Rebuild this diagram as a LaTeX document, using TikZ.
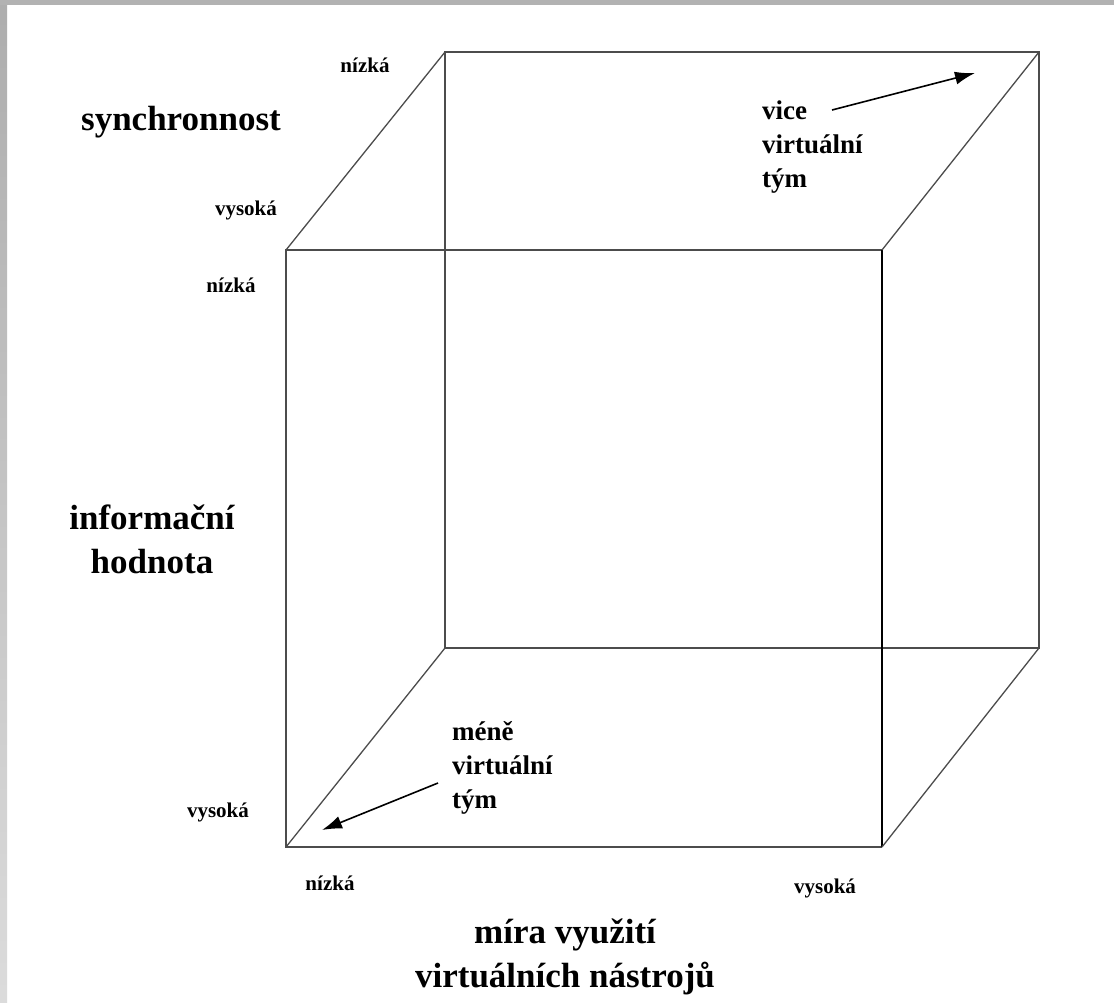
\documentclass[tikz,border=0pt]{standalone}
\usepackage{fontspec}
\setmainfont{Liberation Serif}
\usetikzlibrary{arrows.meta}

\tikzset{
  axistitle/.style={font=\fontsize{35}{44}\selectfont\bfseries, align=center, inner sep=0pt},
  teamlabel/.style={font=\fontsize{27}{34}\selectfont\bfseries, align=left, inner sep=0pt},
  levellabel/.style={font=\fontsize{21}{25}\selectfont\bfseries, inner sep=0pt},
  edge/.style={draw=black!70, line width=1.3pt},
  pointer/.style={-{Latex[length=20pt,width=13pt]}, line width=1.6pt}
}

\begin{document}
\begin{tikzpicture}[x=1pt, y=-1pt]
  \useasboundingbox (0,0) rectangle (1114,1002);
  \fill[white] (0,0) rectangle (1114,1002);
  \shade[top color=black!32, bottom color=black!14] (0,0) rectangle (7,1002);
  \fill[black!30] (0,0) rectangle (1114,5);

  % front face
  \coordinate (ftl) at (286,250);
  \coordinate (ftr) at (882,250);
  \coordinate (fbr) at (882,847);
  \coordinate (fbl) at (286,847);
  % back face
  \coordinate (btl) at (445,52);
  \coordinate (btr) at (1039,52);
  \coordinate (bbr) at (1039,648);
  \coordinate (bbl) at (445,648);

  \draw [edge] (btl) -- (btr) -- (bbr) -- (bbl) -- cycle;
  \draw [edge] (fbr) -- (fbl) -- (ftl) -- (ftr);
  \draw [line width=2.2pt] (ftr) -- (fbr);
  \draw [edge] (ftl) -- (btl);
  \draw [edge] (ftr) -- (btr);
  \draw [edge] (fbr) -- (bbr);
  \draw [edge] (fbl) -- (bbl);

  % axes
  \node (syn) [axistitle, anchor=base] at (181,130) {synchronnost};
  \node (info) [axistitle, anchor=base] at (152,573) {informační\\hodnota};
  \node (mira) [axistitle, anchor=base] at (565,987) {míra využití\\virtuálních nástrojů};

  \node (synlow) [levellabel, anchor=base] at (365,72) {nízká};
  \node (synhigh) [levellabel, anchor=base] at (246,215) {vysoká};
  \node (infolow) [levellabel, anchor=base] at (231,292) {nízká};
  \node (infohigh) [levellabel, anchor=base] at (218,817) {vysoká};
  \node (miralow) [levellabel, anchor=base] at (330,890) {nízká};
  \node (mirahigh) [levellabel, anchor=base] at (825,893) {vysoká};

  % teams
  \node (more) [teamlabel, anchor=base west] at (762,187) {vice\\virtuální\\tým};
  \node (less) [teamlabel, anchor=base west] at (452,808) {méně\\virtuální\\tým};
  \coordinate (moretip) at (975,73);
  \coordinate (moretail) at (832,110);
  \coordinate (lesstip) at (322,830);
  \coordinate (lesstail) at (438,783);
  \draw [pointer] (moretail) -- (moretip);
  \draw [pointer] (lesstail) -- (lesstip);
\end{tikzpicture}
\end{document}
